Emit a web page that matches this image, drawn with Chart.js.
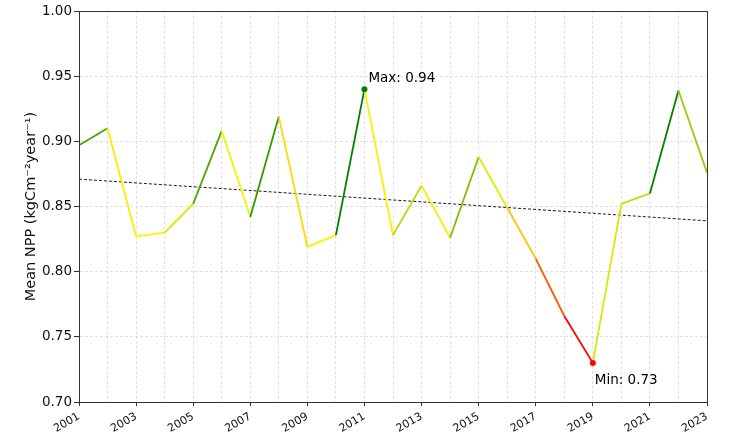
<!DOCTYPE html>
<html>
<head>
<meta charset="utf-8">
<script src="https://cdn.jsdelivr.net/npm/chart.js@4.4.1/dist/chart.umd.min.js"></script>
<style>
  html, body { margin: 0; padding: 0; background: #fff; }
  #wrap { width: 738px; height: 442px; }
</style>
</head>
<body>
<div id="wrap"><canvas id="nppChart"></canvas></div>
<script>
// Yearly mean NPP
const years = [2001, 2002, 2003, 2004, 2005, 2006, 2007, 2008, 2009, 2010, 2011, 2012,
               2013, 2014, 2015, 2016, 2017, 2018, 2019, 2020, 2021, 2022, 2023];
const npp = [0.897, 0.910, 0.827, 0.830, 0.852, 0.908, 0.842, 0.919, 0.819, 0.828, 0.940, 0.828,
             0.866, 0.826, 0.888, 0.849, 0.810, 0.766, 0.730, 0.852, 0.860, 0.939, 0.876];
// dashed trend line end values
const trendYears = [2001, 2023];
const trendValues = [0.871, 0.839];
const yTicks = [0.70, 0.75, 0.80, 0.85, 0.90, 0.95, 1.00];

const FONT = '"DejaVu Sans", "Liberation Sans", sans-serif';

const vmin = Math.min(...npp);
const vmax = Math.max(...npp);
const iMin = npp.indexOf(vmin);
const iMax = npp.indexOf(vmax);

// red -> yellow -> green colormap over the data range
function cmap(v) {
  const t = Math.max(0, Math.min(1, (v - vmin) / (vmax - vmin)));
  let r, g;
  if (t < 0.5) {
    const f = t / 0.5;
    r = 255; g = 255 * f;
  } else {
    const f = (t - 0.5) / 0.5;
    r = 255 * (1 - f); g = 255 - 127 * f;
  }
  return `rgb(${Math.round(r)}, ${Math.round(g)}, 0)`;
}

// full box around the plot plus the max / min labels
const framePlugin = {
  id: 'frame',
  afterDatasetsDraw(chart) {
    const { ctx, chartArea: a, scales: { x, y } } = chart;
    ctx.save();
    ctx.strokeStyle = '#333';
    ctx.lineWidth = 1;
    ctx.strokeRect(Math.round(a.left) + 0.5, Math.round(a.top) + 0.5,
                   Math.round(a.right - a.left), Math.round(a.bottom - a.top));
    ctx.font = `13.5px ${FONT}`;
    ctx.fillStyle = '#000';
    ctx.textBaseline = 'middle';
    ctx.textAlign = 'left';
    ctx.fillText(`Max: ${vmax.toFixed(2)}`,
      x.getPixelForValue(years[iMax]) + 4, y.getPixelForValue(vmax) - 11);
    ctx.fillText(`Min: ${vmin.toFixed(2)}`,
      x.getPixelForValue(years[iMin]) + 2, y.getPixelForValue(vmin) + 18);
    ctx.restore();
  }
};

new Chart(document.getElementById('nppChart'), {
  type: 'line',
  data: {
    datasets: [
      {
        label: 'Mean NPP',
        data: years.map((yr, i) => ({ x: yr, y: npp[i] })),
        borderWidth: 1.8,
        borderColor: '#8c0',
        segment: {
          borderColor: c => cmap(c.p1.parsed.y)
        },
        pointRadius: c => (c.dataIndex === iMax || c.dataIndex === iMin) ? 3 : 0,
        pointBackgroundColor: c => c.dataIndex === iMax ? '#008000' : '#ff0000',
        pointBorderWidth: 0,
        tension: 0
      },
      {
        label: 'Trend',
        data: trendYears.map((yr, i) => ({ x: yr, y: trendValues[i] })),
        borderColor: '#000',
        borderWidth: 0.9,
        borderDash: [3, 2],
        pointRadius: 0
      }
    ]
  },
  options: {
    responsive: true,
    maintainAspectRatio: false,
    animation: false,
    layout: { padding: { top: 11, right: 31, left: 0, bottom: 0 } },
    plugins: {
      legend: { display: false },
      tooltip: { enabled: false }
    },
    scales: {
      x: {
        type: 'linear',
        min: 2001,
        max: 2023,
        afterFit: s => { s.height = 40; },
        ticks: {
          stepSize: 1,
          autoSkip: false,
          minRotation: 30,
          maxRotation: 30,
          padding: 4,
          color: '#111',
          font: { family: FONT, size: 11 },
          callback: v => (v % 2 === 1 ? String(v) : '')
        },
        grid: {
          color: '#d9d9d9',
          lineWidth: 0.8,
          tickLength: 4,
          tickColor: c => (c.tick && c.tick.value % 2 === 1) ? '#333' : 'rgba(0,0,0,0)',
          tickWidth: 1
        },
        border: { color: '#333', width: 1, dash: [3, 2] }
      },
      y: {
        min: 0.7,
        max: 1.0,
        afterFit: s => { s.width = 79; },
        afterBuildTicks: s => { s.ticks = yTicks.map(v => ({ value: v })); },
        ticks: {
          padding: 2,
          color: '#111',
          font: { family: FONT, size: 13.5 },
          callback: v => Number(v).toFixed(2)
        },
        grid: {
          color: '#d9d9d9',
          lineWidth: 0.8,
          tickLength: 5,
          tickColor: '#333',
          tickWidth: 1
        },
        border: { color: '#333', width: 1, dash: [3, 2] },
        title: {
          display: true,
          text: 'Mean NPP (kgCm⁻²year⁻¹)',
          color: '#111',
          font: { family: FONT, size: 14.5 },
          padding: { top: 23, bottom: 0 }
        }
      }
    }
  },
  plugins: [framePlugin]
});
</script>
</body>
</html>
